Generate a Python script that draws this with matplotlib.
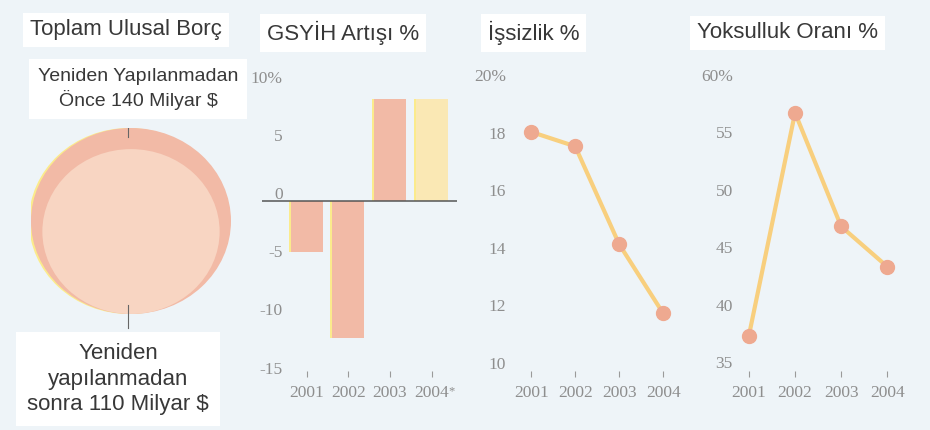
import matplotlib
matplotlib.use('Agg')
import matplotlib.pyplot as plt
from matplotlib.patches import Circle
from matplotlib.transforms import ScaledTranslation

# data
years = [2001, 2002, 2003, 2004]
year_labels = ['2001', '2002', '2003', '2004']
debt_before = 140
debt_after = 110
gdp_growth = [-4.4, -11.8, 8.8, 8.8]
unemployment = [18.3, 17.8, 14.4, 12.0]
poverty = [38.0, 57.4, 47.5, 44.0]

gdp_ticks = [10, 5, 0, -5, -10, -15]
gdp_tick_labels = ['10%', '5', '0', '-5', '-10', '-15']
unemp_ticks = [20, 18, 16, 14, 12, 10]
unemp_tick_labels = ['20%', '18', '16', '14', '12', '10']
pov_ticks = [60, 55, 50, 45, 40, 35]
pov_tick_labels = ['60%', '55', '50', '45', '40', '35']

titles = ['Toplam Ulusal Borç', 'GSYİH Artışı %', 'İşsizlik %', 'Yoksulluk Oranı %']
label_before = 'Yeniden Yapılanmadan\nÖnce 140 Milyar $'
label_after = 'Yeniden\nyapılanmadan\nsonra 110 Milyar $'

BG = '#eef4f8'
TITLE_COLOR = '#383838'
TICK_COLOR = '#8e8e8e'
SALMON = '#f2baa6'
PEACH = '#f8d5c2'
PALE_YELLOW = '#fae8b4'
FRINGE = '#fbeb8c'
LINE_COLOR = '#f8cf7e'
MARKER_COLOR = '#eea990'

W, H = 930, 430
fig = plt.figure(figsize=(W / 100, H / 100), dpi=100, facecolor=BG)


def px_axes(left, top, right, bottom):
    return fig.add_axes([left / W, 1 - bottom / H, (right - left) / W, (bottom - top) / H])


def style_axes(ax, ticks, tick_labels):
    ax.set_facecolor('none')
    for s in ax.spines.values():
        s.set_visible(False)
    ax.set_xticks(years)
    ax.set_xticklabels(year_labels)
    ax.set_yticks(ticks)
    ax.set_yticklabels(tick_labels)
    ax.tick_params(axis='x', direction='in', length=4, width=0.8, color='#9a9a9a',
                   pad=6, labelsize=12.5, labelcolor=TICK_COLOR)
    ax.tick_params(axis='y', length=0, pad=-15, labelsize=12.5, labelcolor=TICK_COLOR)
    offset = ScaledTranslation(0, 8 / 100, fig.dpi_scale_trans)
    for tick in ax.yaxis.get_major_ticks():
        tick.label1.set_transform(tick.label1.get_transform() + offset)
        tick.label1.set_horizontalalignment('right')
    for lab in ax.get_xticklabels() + ax.get_yticklabels():
        lab.set_fontfamily('Liberation Serif')


# titles with white boxes
title_pos = [(30, 30), (267, 33), (488, 33), (697, 33)]
for t, (x, y) in zip(titles, title_pos):
    fig.text(x / W, 1 - y / H, t, fontsize=16, family='Liberation Sans', color=TITLE_COLOR,
             va='center', ha='left',
             bbox=dict(facecolor='white', edgecolor='none', pad=5))

# panel 1: debt circles
ax1 = px_axes(31, 128, 231, 314)
R = debt_before ** 0.5
r = debt_after ** 0.5
ax1.add_patch(Circle((-0.25, 0), R, facecolor=FRINGE, edgecolor='none'))
ax1.add_patch(Circle((0, 0), R, facecolor=SALMON, edgecolor='none'))
ax1.add_patch(Circle((0, -R + r), r, facecolor=PEACH, edgecolor='none'))
ax1.plot([-0.3, -0.3], [R - 1.15, R + 0.4], color='#666666', lw=0.8)
ax1.plot([-0.3, -0.3], [-R + 1.1, -R - 1.8], color='#666666', lw=0.8, clip_on=False)
ax1.set_xlim(-R, R)
ax1.set_ylim(-R, R)
ax1.axis('off')

fig.text(138 / W, 1 - 89 / H, label_before, fontsize=14, family='Liberation Sans',
         color=TITLE_COLOR, ha='center', va='center', linespacing=1.35,
         bbox=dict(facecolor='white', edgecolor='none', pad=6))
fig.text(118 / W, 1 - 379 / H, label_after, fontsize=16, family='Liberation Sans',
         color=TITLE_COLOR, ha='center', va='center', linespacing=1.3,
         bbox=dict(facecolor='white', edgecolor='none', pad=8))

# panel 2: GDP growth bars
ax2 = px_axes(262, 70, 457, 377)
bar_colors = [SALMON, SALMON, SALMON, PALE_YELLOW]
ax2.bar([y - 0.05 for y in years], gdp_growth, width=0.77, color=FRINGE, zorder=1)
ax2.bar(years, gdp_growth, width=0.77, color=bar_colors, zorder=2)
ax2.axhline(0, color='#555555', lw=1.1, zorder=3)
ax2.set_xlim(1999.92, 2004.61)
ax2.set_ylim(-15.12, 11.25)
style_axes(ax2, gdp_ticks, gdp_tick_labels)
ax2.annotate('*', xy=(years[-1], 0), xycoords=('data', 'axes fraction'),
             xytext=(12, -6), textcoords='offset points', fontsize=9,
             color=TICK_COLOR, va='top', ha='left', family='Liberation Serif')

# panel 3: unemployment
ax3 = px_axes(485, 70, 690, 377)
ax3.plot(years, unemployment, color=LINE_COLOR, lw=3, marker='o', markersize=10,
         markerfacecolor=MARKER_COLOR, markeredgecolor=MARKER_COLOR, zorder=2)
ax3.set_xlim(1999.95, 2004.61)
ax3.set_ylim(9.79, 20.45)
style_axes(ax3, unemp_ticks, unemp_tick_labels)

# panel 4: poverty
ax4 = px_axes(712, 70, 915, 377)
ax4.plot(years, poverty, color=LINE_COLOR, lw=3, marker='o', markersize=10,
         markerfacecolor=MARKER_COLOR, markeredgecolor=MARKER_COLOR, zorder=2)
ax4.set_xlim(2000.2, 2004.6)
ax4.set_ylim(34.39, 61.13)
style_axes(ax4, pov_ticks, pov_tick_labels)

fig.savefig('out.png', dpi=100, facecolor=BG)
